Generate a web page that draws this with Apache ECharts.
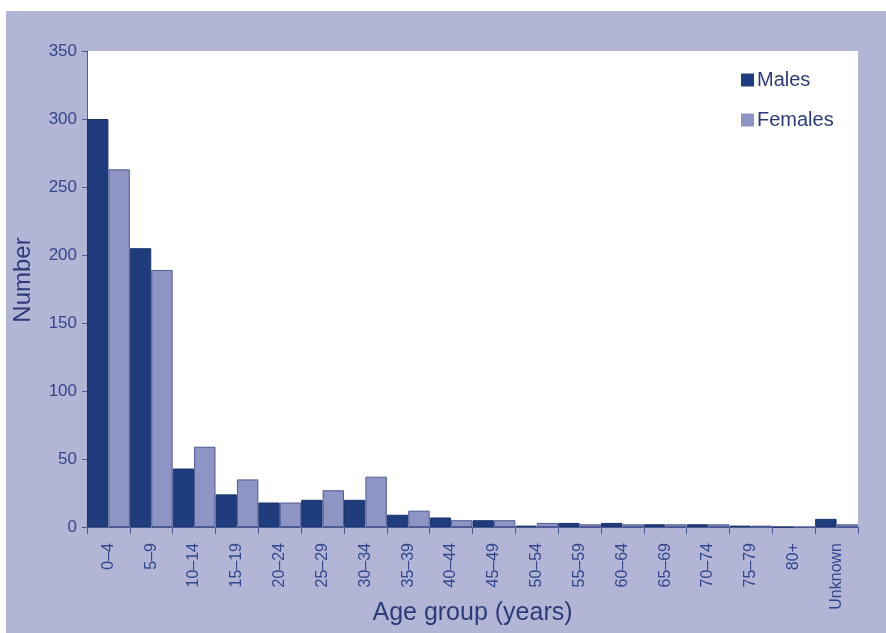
<!DOCTYPE html>
<html>
<head>
<meta charset="utf-8">
<script src="https://cdn.jsdelivr.net/npm/echarts@6/dist/echarts.min.js"></script>
<style>
    html, body {margin: 0; padding: 0; background: #ffffff;}
    #chartDiv {width: 886px; height: 633px;}
</style>
</head>
<body>
<div id="chartDiv"></div>
<script>
// 年龄组
var ageGroups = ['0–4', '5–9', '10–14', '15–19', '20–24', '25–29', '30–34', '35–39', '40–44',
    '45–49', '50–54', '55–59', '60–64', '65–69', '70–74', '75–79', '80+', 'Unknown'];
// 男性
var males = [300, 205, 43, 24, 18, 20, 20, 9, 7, 5, 1, 3, 3, 2, 2, 1, 0, 6];
// 女性
var females = [263, 189, 59, 35, 18, 27, 37, 12, 5, 5, 3, 2, 2, 2, 2, 1, 0, 2];
// 纵轴刻度
var yMax = 350;
var yStep = 50;

var labelColor = '#34468c';
var titleColor = '#2d3c78';
var fontName = 'Liberation Sans';

var chart = echarts.init(document.getElementById('chartDiv'));

var option = {
    backgroundColor: '#ffffff',
    animation: false,
    textStyle: {fontFamily: fontName},
    graphic: [
        {
            type: 'rect',
            left: 6,
            top: 11,
            z: -10,
            shape: {width: 880, height: 622},
            style: {fill: '#b2b5d6'}
        }
    ],
    grid: {
        left: 87,
        right: 28,
        top: 51,
        bottom: 106,
        outerBoundsMode: 'none',
        containLabel: false,
        show: true,
        backgroundColor: '#ffffff',
        borderWidth: 0
    },
    legend: {
        orient: 'vertical',
        left: 736,
        top: 65,
        itemWidth: 13,
        itemHeight: 13,
        itemGap: 20,
        icon: 'rect',
        itemStyle: {borderWidth: 0},
        textStyle: {fontSize: 20, color: titleColor, fontFamily: fontName, padding: [0, 0, 0, -2]},
        data: ['Males', 'Females']
    },
    xAxis: {
        type: 'category',
        data: ageGroups,
        name: 'Age group (years)',
        nameLocation: 'middle',
        nameGap: 74,
        nameMoveOverlap: false,
        nameTextStyle: {fontSize: 25, color: titleColor},
        axisLine: {lineStyle: {color: '#4c5a96', width: 1}},
        axisTick: {show: true, length: 7, lineStyle: {color: '#4c5a96'}},
        axisLabel: {rotate: 90, fontSize: 16, color: labelColor, margin: 16, interval: 0}
    },
    yAxis: {
        type: 'value',
        min: 0,
        max: yMax,
        interval: yStep,
        name: 'Number',
        nameLocation: 'middle',
        nameGap: 52,
        nameMoveOverlap: false,
        nameTextStyle: {fontSize: 24, color: titleColor, padding: [0, 0, 0, 18]},
        axisLine: {show: true, lineStyle: {color: '#4c5a96', width: 1}},
        axisTick: {show: true, length: 5, lineStyle: {color: '#4c5a96'}},
        axisLabel: {fontSize: 17, color: labelColor, margin: 10},
        splitLine: {show: false}
    },
    series: [
        {
            name: 'Males',
            type: 'bar',
            data: males,
            barGap: '0%',
            barCategoryGap: '0%',
            itemStyle: {color: '#1f3d7d', borderColor: '#1a336a', borderWidth: 1}
        },
        {
            name: 'Females',
            type: 'bar',
            data: females,
            itemStyle: {color: '#8e94c4', borderColor: '#4f5993', borderWidth: 1}
        }
    ]
};
chart.setOption(option);
</script>
</body>
</html>
